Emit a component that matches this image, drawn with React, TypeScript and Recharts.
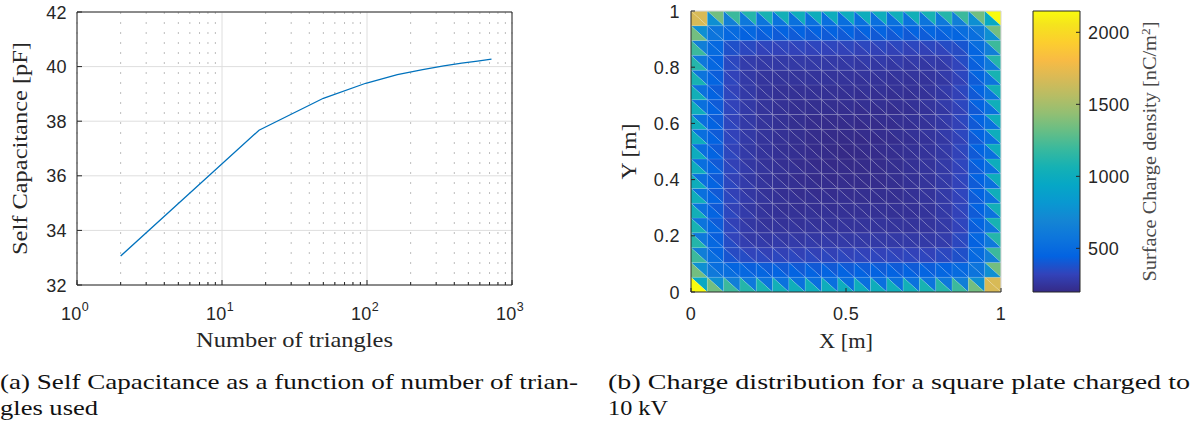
import React from 'react';
import {
  LineChart,
  Line,
  XAxis,
  YAxis,
  CartesianGrid,
  ReferenceArea,
  ReferenceLine,
  ComposedChart,
} from 'recharts';

// ---------- (a) self capacitance vs. number of triangles ----------
const triangleCounts = [2, 18, 50, 98, 162, 242, 338, 450, 578, 722];
const selfCapacitance = [33.06, 37.67, 38.84, 39.39, 39.71, 39.89, 40.03, 40.13, 40.2, 40.27];
const xMajorTicks = [1, 10, 100, 1000];
const xMinorTicks = [2, 3, 4, 5, 6, 7, 8, 9, 20, 30, 40, 50, 60, 70, 80, 90, 200, 300, 400, 500, 600, 700, 800, 900];
const capTicks = [32, 34, 36, 38, 40, 42];

// ---------- (b) charge distribution ----------
const plateXTicks = [0, 0.5, 1];
const plateYTicks = [0, 0.2, 0.4, 0.6, 0.8, 1];
const colorbarTicks = [500, 1000, 1500, 2000];
const chargeMin = 197;
const chargeMax = 2148;

// surface charge density [nC/m^2]; rows from top (y = 1) to bottom (y = 0), columns from x = 0 to x = 1
// upper-right triangle of each cell
const upperTriangles: number[][] = [
  [1680, 1350, 1200, 1120, 1075, 1045, 1025, 1015, 1010, 1005, 1010, 1015, 1025, 1045, 1075, 1120, 1200, 1350, 2148],
  [760, 560, 500, 469, 457, 447, 447, 447, 447, 450, 453, 453, 453, 453, 463, 481, 520, 600, 1350],
  [640, 480, 370, 344, 332, 332, 332, 332, 332, 335, 338, 338, 338, 338, 338, 356, 390, 520, 1200],
  [590, 441, 336, 285, 275, 275, 275, 275, 275, 278, 281, 281, 281, 281, 281, 297, 356, 481, 1120],
  [560, 423, 318, 269, 250, 245, 245, 245, 245, 248, 251, 251, 251, 251, 256, 281, 338, 463, 1075],
  [545, 413, 318, 269, 245, 233, 230, 230, 230, 233, 236, 236, 236, 239, 251, 281, 338, 453, 1045],
  [535, 413, 318, 269, 245, 230, 222, 220, 220, 223, 226, 226, 228, 236, 251, 281, 338, 453, 1025],
  [530, 413, 318, 269, 245, 230, 220, 212, 210, 213, 216, 218, 226, 236, 251, 281, 338, 453, 1015],
  [525, 413, 318, 269, 245, 230, 220, 210, 205, 206, 211, 216, 226, 236, 251, 281, 338, 453, 1010],
  [520, 410, 315, 266, 242, 227, 217, 207, 200, 197, 206, 213, 223, 233, 248, 278, 335, 450, 1005],
  [525, 407, 312, 263, 239, 224, 214, 204, 199, 200, 205, 210, 220, 230, 245, 275, 332, 447, 1010],
  [530, 407, 312, 263, 239, 224, 214, 206, 204, 207, 210, 212, 220, 230, 245, 275, 332, 447, 1015],
  [535, 407, 312, 263, 239, 224, 216, 214, 214, 217, 220, 220, 222, 230, 245, 275, 332, 447, 1025],
  [545, 407, 312, 263, 239, 227, 224, 224, 224, 227, 230, 230, 230, 233, 245, 275, 332, 447, 1045],
  [560, 417, 312, 263, 244, 239, 239, 239, 239, 242, 245, 245, 245, 245, 250, 275, 332, 457, 1075],
  [590, 429, 324, 273, 263, 263, 263, 263, 263, 266, 269, 269, 269, 269, 269, 285, 344, 469, 1120],
  [640, 460, 350, 324, 312, 312, 312, 312, 312, 315, 318, 318, 318, 318, 318, 336, 370, 500, 1200],
  [760, 520, 460, 429, 417, 407, 407, 407, 407, 410, 413, 413, 413, 413, 423, 441, 480, 560, 1350],
  [960, 760, 640, 590, 560, 545, 535, 530, 525, 520, 525, 530, 535, 545, 560, 590, 640, 760, 1680],
];
// lower-left triangle of each cell
const lowerTriangles: number[][] = [
  [1680, 760, 640, 590, 560, 545, 535, 530, 525, 520, 525, 530, 535, 545, 560, 590, 640, 760, 960],
  [1350, 560, 480, 441, 423, 413, 413, 413, 413, 410, 407, 407, 407, 407, 417, 429, 460, 520, 760],
  [1200, 500, 370, 336, 318, 318, 318, 318, 318, 315, 312, 312, 312, 312, 312, 324, 350, 460, 640],
  [1120, 469, 344, 285, 269, 269, 269, 269, 269, 266, 263, 263, 263, 263, 263, 273, 324, 429, 590],
  [1075, 457, 332, 275, 250, 245, 245, 245, 245, 242, 239, 239, 239, 239, 244, 263, 312, 417, 560],
  [1045, 447, 332, 275, 245, 233, 230, 230, 230, 227, 224, 224, 224, 227, 239, 263, 312, 407, 545],
  [1025, 447, 332, 275, 245, 230, 222, 220, 220, 217, 214, 214, 216, 224, 239, 263, 312, 407, 535],
  [1015, 447, 332, 275, 245, 230, 220, 212, 210, 207, 204, 206, 214, 224, 239, 263, 312, 407, 530],
  [1010, 447, 332, 275, 245, 230, 220, 210, 205, 200, 199, 204, 214, 224, 239, 263, 312, 407, 525],
  [1005, 450, 335, 278, 248, 233, 223, 213, 206, 197, 200, 207, 217, 227, 242, 266, 315, 410, 520],
  [1010, 453, 338, 281, 251, 236, 226, 216, 211, 206, 205, 210, 220, 230, 245, 269, 318, 413, 525],
  [1015, 453, 338, 281, 251, 236, 226, 218, 216, 213, 210, 212, 220, 230, 245, 269, 318, 413, 530],
  [1025, 453, 338, 281, 251, 236, 228, 226, 226, 223, 220, 220, 222, 230, 245, 269, 318, 413, 535],
  [1045, 453, 338, 281, 251, 239, 236, 236, 236, 233, 230, 230, 230, 233, 245, 269, 318, 413, 545],
  [1075, 463, 338, 281, 256, 251, 251, 251, 251, 248, 245, 245, 245, 245, 250, 269, 318, 423, 560],
  [1120, 481, 356, 297, 281, 281, 281, 281, 281, 278, 275, 275, 275, 275, 275, 285, 336, 441, 590],
  [1200, 520, 390, 356, 338, 338, 338, 338, 338, 335, 332, 332, 332, 332, 332, 344, 370, 480, 640],
  [1350, 600, 520, 481, 463, 453, 453, 453, 453, 450, 447, 447, 447, 447, 457, 469, 500, 560, 760],
  [2148, 1350, 1200, 1120, 1075, 1045, 1025, 1015, 1010, 1005, 1010, 1015, 1025, 1045, 1075, 1120, 1200, 1350, 1680],
];

// parula colormap (index out of 63, rgb)
const parulaStops: [number, number, number, number][] = [
  [0, 53, 42, 135], [4, 50, 67, 186], [8, 3, 99, 225], [12, 13, 117, 220], [16, 20, 133, 212],
  [20, 9, 152, 209], [24, 6, 167, 198], [28, 21, 177, 180], [32, 56, 185, 158], [36, 101, 190, 134],
  [40, 146, 191, 115], [44, 183, 189, 100], [48, 217, 186, 86], [52, 248, 187, 68], [56, 252, 206, 46],
  [60, 245, 228, 29], [63, 249, 251, 14],
];

const parulaColor = (v: number) => {
  const t = Math.min(1, Math.max(0, (v - chargeMin) / (chargeMax - chargeMin))) * 63;
  for (let k = 0; k < parulaStops.length - 1; k++) {
    const a = parulaStops[k];
    const b = parulaStops[k + 1];
    if (t <= b[0]) {
      const f = (t - a[0]) / (b[0] - a[0]);
      const c = [1, 2, 3].map((q) => Math.round(a[q] + (b[q] - a[q]) * f));
      return `rgb(${c[0]},${c[1]},${c[2]})`;
    }
  }
  const l = parulaStops[parulaStops.length - 1];
  return `rgb(${l[1]},${l[2]},${l[3]})`;
};

const axisColor = '#262626';
const sansFont = '"Liberation Sans", Arial, Helvetica, sans-serif';
const serifFont = '"Liberation Serif", "Times New Roman", serif';
const tickFont = { fontFamily: sansFont, fontSize: 18, letterSpacing: 0.4, fill: axisColor } as const;

// ---------- tick renderers ----------
const CapYTick = (props: any) => {
  const { x, y, payload } = props;
  return (
    <g>
      <line x1={x} x2={x + 5} y1={y} y2={y} stroke={axisColor} />
      <text x={x - 10} y={y + 6.5} textAnchor="end" {...tickFont}>
        {payload.value}
      </text>
    </g>
  );
};

const CapRightTick = (props: any) => {
  const { x, y } = props;
  return <line x1={x - 5} x2={x} y1={y} y2={y} stroke={axisColor} />;
};

const LogBottomTick = (props: any) => {
  const { x, y, payload } = props;
  const v = payload.value;
  const major = xMajorTicks.includes(v);
  return (
    <g>
      <line x1={x} x2={x} y1={y} y2={y - (major ? 5 : 3)} stroke={axisColor} />
      {major && (
        <text x={x - 2} y={y + 35} textAnchor="middle" {...tickFont}>
          10
          <tspan dy={-9} fontSize={12.5}>
            {Math.round(Math.log10(v))}
          </tspan>
        </text>
      )}
    </g>
  );
};

const makeTopTick = (len: number) => (props: any) => {
  const { x, y } = props;
  return <line x1={x} x2={x} y1={y} y2={y + len} stroke={axisColor} />;
};
const TopMajorTick = makeTopTick(5);
const TopMinorTick = makeTopTick(3);

const PlateYTick = (props: any) => {
  const { x, y, payload } = props;
  return (
    <g>
      <line x1={x} x2={x + 4} y1={y} y2={y} stroke={axisColor} />
      <text x={x - 11} y={y + 6.5} textAnchor="end" {...tickFont}>
        {payload.value}
      </text>
    </g>
  );
};

const PlateXTick = (props: any) => {
  const { x, y, payload } = props;
  return (
    <g>
      <line x1={x} x2={x} y1={y} y2={y - 4} stroke={axisColor} />
      <text x={x} y={y + 28} textAnchor="middle" {...tickFont}>
        {payload.value}
      </text>
    </g>
  );
};

const ColorbarTick = (props: any) => {
  const { x, y, payload } = props;
  return (
    <g>
      <line x1={x - 4} x2={x} y1={y} y2={y} stroke={axisColor} />
      <text x={x + 8} y={y + 6.5} textAnchor="start" {...tickFont}>
        {payload.value}
      </text>
    </g>
  );
};

// ---------- axis titles ----------
const vbOr = (p: any, d: any) => (p && p.viewBox && typeof p.viewBox.x === 'number' ? p.viewBox : d);

const CapYLabel = (p: any) => {
  const vb = vbOr(p, { x: 0, y: 12, width: 77, height: 273 });
  const cx = vb.x + 27;
  const cy = vb.y + vb.height / 2;
  return (
    <text x={cx} y={cy} transform={`rotate(-90 ${cx} ${cy})`} textAnchor="middle" fontFamily={serifFont} fontSize={21}
      textLength={213} lengthAdjust="spacingAndGlyphs" fill={axisColor}>
      Self Capacitance [pF]
    </text>
  );
};

const CapXLabel = (p: any) => {
  const vb = vbOr(p, { x: 77, y: 285, width: 435, height: 75 });
  return (
    <text x={vb.x + vb.width / 2} y={vb.y + 62} textAnchor="middle" fontFamily={serifFont} fontSize={21}
      textLength={197} lengthAdjust="spacingAndGlyphs" fill={axisColor}>
      Number of triangles
    </text>
  );
};

const PlateXLabel = (p: any) => {
  const vb = vbOr(p, { x: 91, y: 292, width: 310, height: 68 });
  return (
    <text x={vb.x + vb.width / 2} y={vb.y + 56} textAnchor="middle" fontFamily={serifFont} fontSize={21}
      textLength={54} lengthAdjust="spacingAndGlyphs" fill={axisColor}>
      X [m]
    </text>
  );
};

const PlateYLabel = (p: any) => {
  const vb = vbOr(p, { x: 0, y: 11, width: 91, height: 281 });
  const cx = vb.x + 36;
  const cy = vb.y + vb.height / 2;
  return (
    <text x={cx} y={cy} transform={`rotate(-90 ${cx} ${cy})`} textAnchor="middle" fontFamily={serifFont} fontSize={21}
      textLength={56} lengthAdjust="spacingAndGlyphs" fill={axisColor}>
      Y [m]
    </text>
  );
};

const ColorbarLabel = (p: any) => {
  const vb = vbOr(p, { x: 60, y: 11, width: 60, height: 281 });
  const cx = vb.x + 76;
  const cy = vb.y + vb.height / 2;
  return (
    <text x={cx} y={cy} transform={`rotate(-90 ${cx} ${cy})`} textAnchor="middle" fontFamily={serifFont} fontSize={18}
      textLength={260} lengthAdjust="spacingAndGlyphs" fill="#4a4a4a">
      Surface Charge density [nC/m
      <tspan dy={-6} fontSize={12}>2</tspan>
      <tspan dy={6}>]</tspan>
    </text>
  );
};

// ---------- data tables for the library ----------
const capData = triangleCounts.map((n, i) => ({ n, c: selfCapacitance[i] }));
const allLogTicks = [...xMajorTicks, ...xMinorTicks].sort((a, b) => a - b);

const nCells = upperTriangles.length;
type Cell = { key: string; x1: number; x2: number; y1: number; y2: number; u: number; l: number };
const plateCells: Cell[] = [];
upperTriangles.forEach((row, r) =>
  row.forEach((u, i) => {
    const j = nCells - 1 - r;
    plateCells.push({
      key: `${i}-${j}`,
      x1: i / nCells,
      x2: (i + 1) / nCells,
      y1: j / nCells,
      y2: (j + 1) / nCells,
      u,
      l: lowerTriangles[r][i],
    });
  })
);

const edgeStroke = 'rgba(255,255,255,0.16)';

const normRect = (p: any) => {
  const left = p.width < 0 ? p.x + p.width : p.x;
  const top = p.height < 0 ? p.y + p.height : p.y;
  return { left, top, w: Math.abs(p.width), h: Math.abs(p.height) };
};

// triangle with vertices top-left, top-right, bottom-right
const upperShape = (fill: string) => (p: any) => {
  const { left, top, w, h } = normRect(p);
  return (
    <polygon points={`${left},${top} ${left + w},${top} ${left + w},${top + h}`} fill={fill} stroke={edgeStroke} strokeWidth={0.7} />
  );
};
// triangle with vertices top-left, bottom-left, bottom-right
const lowerShape = (fill: string) => (p: any) => {
  const { left, top, w, h } = normRect(p);
  return (
    <polygon points={`${left},${top} ${left},${top + h} ${left + w},${top + h}`} fill={fill} stroke={edgeStroke} strokeWidth={0.7} />
  );
};

const CapacitanceChart = () => (
  <LineChart width={540} height={360} data={capData} margin={{ top: 12, right: 28, left: 0, bottom: 0 }}>
    <CartesianGrid xAxisId="t" yAxisId="l" stroke="#dedede" />
    <CartesianGrid xAxisId="tm" yAxisId="l" horizontal={false} stroke="#bdbdbd" strokeDasharray="2 8" />
    <XAxis xAxisId="t" orientation="top" dataKey="n" type="number" scale="log" domain={[1, 1000]} allowDataOverflow
      ticks={xMajorTicks} interval={0} height={0} axisLine={false} tickLine={false} tickSize={0} tickMargin={0} tick={TopMajorTick} />
    <XAxis xAxisId="tm" orientation="top" dataKey="n" type="number" scale="log" domain={[1, 1000]} allowDataOverflow
      ticks={xMinorTicks} interval={0} height={0} axisLine={false} tickLine={false} tickSize={0} tickMargin={0} tick={TopMinorTick} />
    <XAxis xAxisId="b" orientation="bottom" dataKey="n" type="number" scale="log" domain={[1, 1000]} allowDataOverflow
      ticks={allLogTicks} interval={0} height={75} axisLine={false} tickLine={false} tickSize={0} tickMargin={0}
      tick={LogBottomTick} label={CapXLabel} />
    <YAxis yAxisId="l" orientation="left" type="number" domain={[32, 42]} allowDataOverflow ticks={capTicks} interval={0}
      width={77} axisLine={false} tickLine={false} tickSize={0} tickMargin={0} tick={CapYTick} label={CapYLabel} />
    <YAxis yAxisId="r" orientation="right" type="number" domain={[32, 42]} allowDataOverflow ticks={capTicks} interval={0}
      width={0} axisLine={false} tickLine={false} tickSize={0} tickMargin={0} tick={CapRightTick} />
    <Line xAxisId="b" yAxisId="l" dataKey="c" type="linear" stroke="#0072BD" strokeWidth={1.3} dot={false}
      activeDot={false} isAnimationActive={false} />
    <ReferenceArea xAxisId="b" yAxisId="l" x1={1} x2={1000} y1={32} y2={42} fill="none" fillOpacity={0}
      stroke={axisColor} strokeWidth={1} ifOverflow="visible" />
  </LineChart>
);

const PlateChart = () => (
  <ComposedChart width={420} height={360} margin={{ top: 11, right: 19, left: 0, bottom: 0 }}>
    <XAxis type="number" dataKey="x" domain={[0, 1]} allowDataOverflow ticks={plateXTicks} interval={0} height={68}
      axisLine={{ stroke: axisColor }} tickLine={false} tickSize={0} tickMargin={0} tick={PlateXTick} label={PlateXLabel} />
    <YAxis type="number" dataKey="y" domain={[0, 1]} allowDataOverflow ticks={plateYTicks} interval={0} width={91}
      axisLine={{ stroke: axisColor }} tickLine={false} tickSize={0} tickMargin={0} tick={PlateYTick} label={PlateYLabel} />
    {plateCells.map((c) => (
      <ReferenceArea key={`u${c.key}`} x1={c.x1} x2={c.x2} y1={c.y1} y2={c.y2} ifOverflow="visible"
        shape={upperShape(parulaColor(c.u))} />
    ))}
    {plateCells.map((c) => (
      <ReferenceArea key={`l${c.key}`} x1={c.x1} x2={c.x2} y1={c.y1} y2={c.y2} ifOverflow="visible"
        shape={lowerShape(parulaColor(c.l))} />
    ))}
    <ReferenceLine y={1} stroke="#d4d4d4" ifOverflow="visible" />
    <ReferenceLine x={1} stroke="#d4d4d4" ifOverflow="visible" />
  </ComposedChart>
);

const ColorbarChart = () => (
  <ComposedChart width={174} height={360} margin={{ top: 11, right: 54, left: 13, bottom: 68 }}>
    <defs>
      <linearGradient id="parulaGradient" x1="0" y1="1" x2="0" y2="0">
        {parulaStops.map((s) => (
          <stop key={s[0]} offset={s[0] / 63} stopColor={`rgb(${s[1]},${s[2]},${s[3]})`} />
        ))}
      </linearGradient>
    </defs>
    <XAxis type="number" dataKey="x" domain={[0, 1]} allowDataOverflow hide />
    <YAxis orientation="right" type="number" dataKey="y" domain={[chargeMin, chargeMax]} allowDataOverflow ticks={colorbarTicks}
      interval={0} width={60} axisLine={false} tickLine={false} tickSize={0} tickMargin={0} tick={ColorbarTick}
      label={ColorbarLabel} />
    <ReferenceArea x1={0} x2={1} y1={chargeMin} y2={chargeMax} fill="url(#parulaGradient)" fillOpacity={1} stroke={axisColor}
      strokeWidth={1} ifOverflow="visible" />
  </ComposedChart>
);

const captionStyle = { fontFamily: serifFont, fontSize: 22, fill: '#111' } as const;

export default function App() {
  return (
    <div style={{ position: 'absolute', left: 0, top: 0, width: 1194, height: 425, background: '#fff', overflow: 'hidden' }}>
      <svg width={1194} height={425} style={{ position: 'absolute', left: 0, top: 0 }}>
        <text x={0} y={389} textLength={578} lengthAdjust="spacingAndGlyphs" {...captionStyle}>
          (a) Self Capacitance as a function of number of trian-
        </text>
        <text x={0} y={415} textLength={98} lengthAdjust="spacingAndGlyphs" {...captionStyle}>
          gles used
        </text>
        <text x={608} y={389} textLength={582} lengthAdjust="spacingAndGlyphs" {...captionStyle}>
          (b) Charge distribution for a square plate charged to
        </text>
        <text x={608} y={415} textLength={60} lengthAdjust="spacingAndGlyphs" {...captionStyle}>
          10 kV
        </text>
      </svg>
      <div style={{ position: 'absolute', left: 0, top: 0 }}>
        <CapacitanceChart />
      </div>
      <div style={{ position: 'absolute', left: 600, top: 0 }}>
        <PlateChart />
      </div>
      <div style={{ position: 'absolute', left: 1020, top: 0 }}>
        <ColorbarChart />
      </div>
    </div>
  );
}
